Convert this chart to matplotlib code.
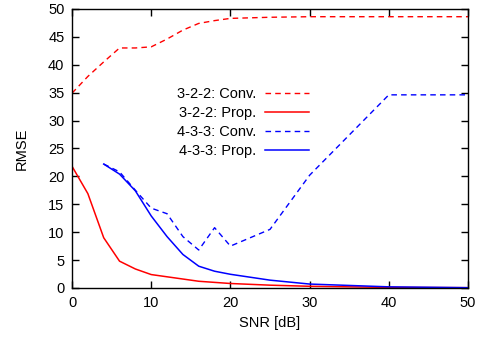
import matplotlib
matplotlib.use('Agg')
import matplotlib.pyplot as plt

# SNR grid and RMSE values
snr = [0, 2, 4, 6, 8, 10, 12, 14, 16, 18, 20, 25, 30, 40, 50]
conv_322 = [34.9, 37.9, 40.5, 43.0, 43.0, 43.2, 44.6, 46.2, 47.4, 47.9, 48.3, 48.5, 48.6, 48.6, 48.6]
prop_322 = [21.8, 16.9, 9.0, 4.8, 3.4, 2.4, 2.0, 1.6, 1.2, 1.0, 0.8, 0.5, 0.3, 0.1, 0.05]

snr_433 = [4, 6, 8, 10, 12, 14, 16, 18, 20, 25, 30, 40, 50]
conv_433 = [22.2, 20.8, 17.5, 14.3, 13.3, 9.2, 6.8, 10.8, 7.5, 10.5, 20.2, 34.6, 34.6]
prop_433 = [22.2, 20.4, 17.4, 12.9, 9.2, 6.0, 3.9, 3.0, 2.45, 1.4, 0.7, 0.2, 0.05]

plt.rcParams['font.family'] = ['Liberation Sans', 'DejaVu Sans']
plt.rcParams['font.size'] = 10.5

fig = plt.figure(figsize=(4.85, 3.42), dpi=100)
ax = fig.add_axes([0.1485, 0.158, 0.8165, 0.816])

dash = (4, 3)
ax.plot(snr, conv_322, color='red', lw=1, dashes=dash, label='3-2-2: Conv.')
ax.plot(snr, prop_322, color='red', lw=1.1, label='3-2-2: Prop.')
ax.plot(snr_433, conv_433, color='blue', lw=1, dashes=dash, label='4-3-3: Conv.')
ax.plot(snr_433, prop_433, color='blue', lw=1.1, label='4-3-3: Prop.')

ax.set_xlim(0, 50)
ax.set_ylim(0, 50)
ax.set_xticks(range(0, 51, 10))
ax.set_yticks(range(0, 51, 5))
ax.tick_params(direction='in', top=True, right=True, length=5, width=1, pad=5.5)
for s in ax.spines.values():
    s.set_linewidth(1)

ax.set_xlabel('SNR [dB]', labelpad=4.5)
ax.set_ylabel('RMSE', labelpad=14)

ax.legend(loc='upper right', bbox_to_anchor=(0.612, 0.742), frameon=False,
          markerfirst=False, handlelength=3.0, labelspacing=0.35,
          handletextpad=0.6, borderaxespad=0)

fig.savefig('out.png', dpi=100)
